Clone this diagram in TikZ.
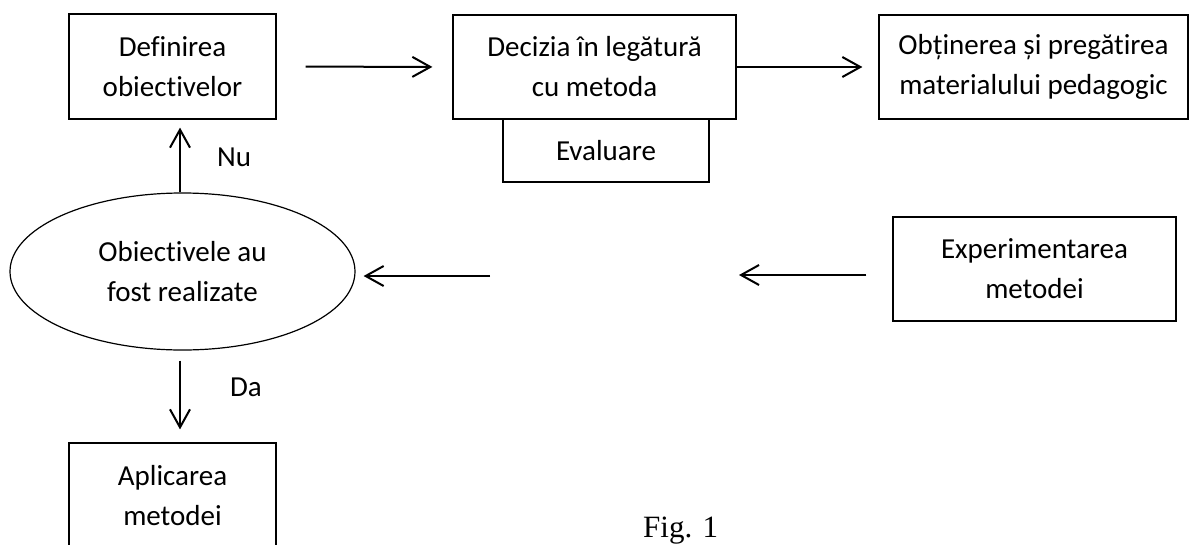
\documentclass[tikz,border=0pt]{standalone}
\usepackage{fontspec}
\setmainfont{Carlito}[Ligatures={NoCommon,NoRequired,NoContextual}]
\newfontfamily\timesf{Liberation Serif}
\usetikzlibrary{arrows.meta,shapes.geometric,calc}
\tikzset{
  boxnode/.style={draw, line width=1.2pt, align=center, inner sep=0pt,
    font=\fontsize{29}{40}\selectfont},
  ellnode/.style={draw, ellipse, line width=1.2pt, align=center, inner sep=0pt,
    font=\fontsize{29}{40}\selectfont},
  arr/.style={line width=2pt, -{Straight Barb[length=18pt,width=20pt,line width=2pt]}},
  lbl/.style={font=\fontsize{29}{40}\selectfont, inner sep=0pt}
}
\begin{document}
\begin{tikzpicture}[x=1pt,y=-1pt]
\useasboundingbox (0,0) rectangle (1189,544);
\fill[white] (0,0) rectangle (1189,544);
\node[boxnode, minimum width=207pt, minimum height=105pt] (def) at (172.5,66.5) {Definirea\\obiectivelor};
\node[boxnode, minimum width=283pt, minimum height=104pt] (dec) at (594.5,67) {Decizia în legătură\\cu metoda};
\node[boxnode, minimum width=206pt, minimum height=63pt] (eval) at (606,150.5) {Evaluare};
\node[boxnode, minimum width=309pt, minimum height=104pt] (obt) at (1033.5,67) {Obținerea și pregătirea\\materialului pedagogic};
\node[boxnode, minimum width=283pt, minimum height=104pt] (exp) at (1034.5,269) {Experimentarea\\metodei};
\node[ellnode, minimum width=345pt, minimum height=157pt] (ell) at (182.5,271.5) {Obiectivele au\\fost realizate};
\node[boxnode, minimum width=207pt, minimum height=105pt] (apl) at (172.5,495.5) {Aplicarea\\metodei};
\coordinate (gapR) at (739,275);
\coordinate (gapL) at (490,276);
\draw[arr, shorten <=29pt, shorten >=20pt] (def.east) -- (dec.west);
\draw[arr, shorten >=16pt] (dec.east) -- (obt.west);
\draw[arr] ([xshift=-26pt,yshift=-6pt]exp.west) -- (gapR);
\draw[arr] (gapL) -- ([xshift=8pt,yshift=-4.5pt]ell.east);
\draw[arr, shorten >=8pt] ([xshift=-2.5pt]ell.north) -- ([xshift=-2.5pt]ell.north |- def.south);
\draw[arr, shorten <=10pt, shorten >=13pt] ([xshift=-2.5pt]ell.south) -- ([xshift=-2.5pt]ell.south |- apl.north);
\node[lbl] (nu) at (234,157) {Nu};
\node[lbl] (da) at (246,387) {Da};
\node[anchor=base west, inner sep=0pt, font=\timesf\fontsize{31}{36}\selectfont] (fig) at (643,537) {Fig. 1};
\end{tikzpicture}
\end{document}
